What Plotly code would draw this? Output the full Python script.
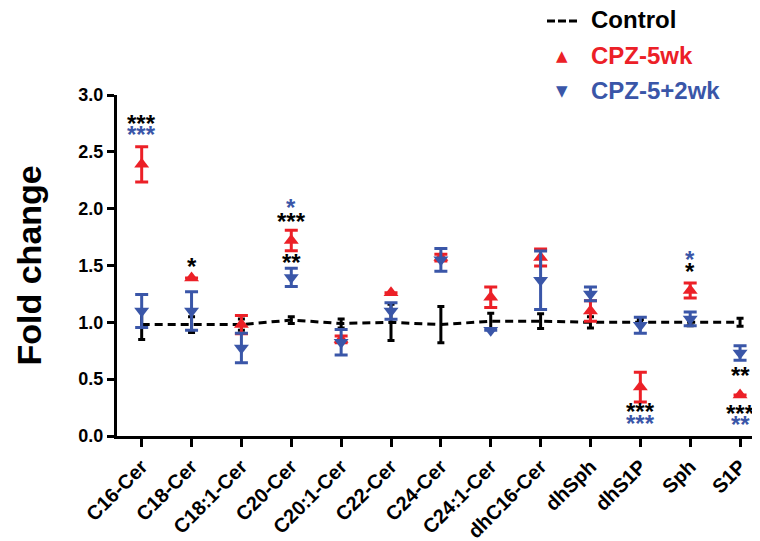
import plotly.graph_objects as go

categories = ["C16-Cer", "C18-Cer", "C18:1-Cer", "C20-Cer", "C20:1-Cer", "C22-Cer",
              "C24-Cer", "C24:1-Cer", "dhC16-Cer", "dhSph", "dhS1P", "Sph", "S1P"]

control_mean = [0.98, 0.98, 0.98, 1.02, 0.99, 1.00, 0.98, 1.01, 1.01, 1.00, 1.00, 1.00, 1.00]
control_err = [0.13, 0.07, 0.05, 0.03, 0.04, 0.16, 0.16, 0.07, 0.065, 0.05, 0.025, 0.03, 0.035]

cpz5_mean = [2.39, 1.39, 0.98, 1.72, 0.85, 1.26, 1.57, 1.22, 1.57, 1.10, 0.43, 1.28, 0.36]
cpz5_err = [0.155, 0.0, 0.08, 0.09, 0.03, 0.0, 0.03, 0.09, 0.075, 0.09, 0.13, 0.065, 0.0]

cpz52_mean = [1.10, 1.10, 0.775, 1.395, 0.825, 1.10, 1.55, 0.93, 1.37, 1.25, 0.975, 1.03, 0.73]
cpz52_err = [0.145, 0.17, 0.13, 0.08, 0.113, 0.073, 0.10, 0.0, 0.258, 0.06, 0.07, 0.06, 0.063]

# significance labels: (category index, y, text, colour key)
stars = [
    (0, 2.755, "***", "k"), (0, 2.66, "***", "b"),
    (1, 1.504, "*", "k"),
    (3, 2.017, "*", "b"), (3, 1.90, "***", "k"), (3, 1.533, "**", "k"),
    (10, 0.22, "***", "k"), (10, 0.12, "***", "b"),
    (11, 1.563, "*", "b"), (11, 1.46, "*", "k"),
    (12, 0.543, "**", "k"), (12, 0.208, "***", "k"), (12, 0.11, "**", "b"),
]

legend_names = ["Control", "CPZ-5wk", "CPZ-5+2wk"]

RED = "#EC2027"
BLUE = "#3A56A8"
BLACK = "#000000"
col = {"k": BLACK, "r": RED, "b": BLUE}
FONT = "Liberation Sans, Arial, Helvetica, sans-serif"

# page body has an 8px margin; the figure is sized to fit the window
W, H = 752, 533
ML, MT, MB = 109, 87, 105
PW, PH = W - ML, H - MT - MB


def px(p):   # page x pixel -> paper x
    return (p - 8 - ML) / PW


def py(p):   # page y pixel -> paper y
    return (H - MB - (p - 8)) / PH


x = list(range(len(categories)))

fig = go.Figure()

fig.add_trace(go.Scatter(
    x=x, y=control_mean, mode="lines", showlegend=False,
    line=dict(color=BLACK, width=3, dash="8px,5px"),
    error_y=dict(type="data", array=control_err, color=BLACK, thickness=3, width=3.5),
))
fig.add_trace(go.Scatter(
    x=x, y=cpz5_mean, mode="markers", showlegend=False,
    marker=dict(symbol="triangle-up", size=13, color=RED),
    error_y=dict(type="data", array=cpz5_err, color=RED, thickness=3, width=6.5),
))
fig.add_trace(go.Scatter(
    x=x, y=cpz52_mean, mode="markers", showlegend=False,
    marker=dict(symbol="triangle-down", size=13, color=BLUE),
    error_y=dict(type="data", array=cpz52_err, color=BLUE, thickness=3, width=6.5),
))

ann = []
for i, yv, t, c in stars:
    ann.append(dict(x=i, y=yv, xref="x", yref="y", text=t, showarrow=False,
                    font=dict(family=FONT, size=24, color=col[c], weight="bold"),
                    xanchor="center", yanchor="middle", yshift=-1))

ann.append(dict(x=px(28), y=0.5, xref="paper", yref="paper", text="<b>Fold change</b>",
                textangle=-90, showarrow=False, xanchor="center", yanchor="middle",
                font=dict(family=FONT, size=34, color=BLACK)))

# custom legend
leg_y = [20, 55.5, 90.5]
leg_col = [BLACK, RED, BLUE]
for name, yy, cc in zip(legend_names, leg_y, leg_col):
    ann.append(dict(x=px(589), y=py(yy), xref="paper", yref="paper", text="<b>%s</b>" % name,
                    showarrow=False, xanchor="left", yanchor="middle",
                    font=dict(family=FONT, size=24, color=cc)))
ann.append(dict(x=px(562), y=py(leg_y[1]), xref="paper", yref="paper", text="\u25B2",
                showarrow=False, xanchor="center", yanchor="middle",
                font=dict(family="DejaVu Sans", size=15, color=RED)))
ann.append(dict(x=px(562), y=py(leg_y[2]), xref="paper", yref="paper", text="\u25BC",
                showarrow=False, xanchor="center", yanchor="middle",
                font=dict(family="DejaVu Sans", size=15, color=BLUE)))

shapes = [dict(type="line", xref="paper", yref="paper",
               x0=px(547), x1=px(577), y0=py(leg_y[0] + 1), y1=py(leg_y[0] + 1),
               line=dict(color=BLACK, width=3, dash="8px,3px"))]

fig.update_layout(
    width=W, height=H,
    margin=dict(l=ML, r=0, t=MT, b=MB, autoexpand=False),
    paper_bgcolor="white", plot_bgcolor="white",
    font=dict(family=FONT, color=BLACK),
    showlegend=False,
    annotations=ann,
    shapes=shapes,
    xaxis=dict(range=[-0.495, 12.4], tickmode="array", tickvals=x, ticktext=categories,
               tickangle=-45, showgrid=False, zeroline=False,
               showline=True, linecolor=BLACK, linewidth=3,
               ticks="outside", ticklen=8, tickwidth=3, tickcolor=BLACK,
               tickfont=dict(family=FONT, size=20, color=BLACK, weight="bold")),
    yaxis=dict(range=[0, 3], tickvals=[0, 0.5, 1.0, 1.5, 2.0, 2.5, 3.0], tickformat=".1f",
               showgrid=False, zeroline=False,
               showline=True, linecolor=BLACK, linewidth=3,
               ticks="outside", ticklen=7, tickwidth=3, tickcolor=BLACK,
               tickfont=dict(family=FONT, size=18, color=BLACK, weight="bold")),
)

fig.write_html("out.html")
